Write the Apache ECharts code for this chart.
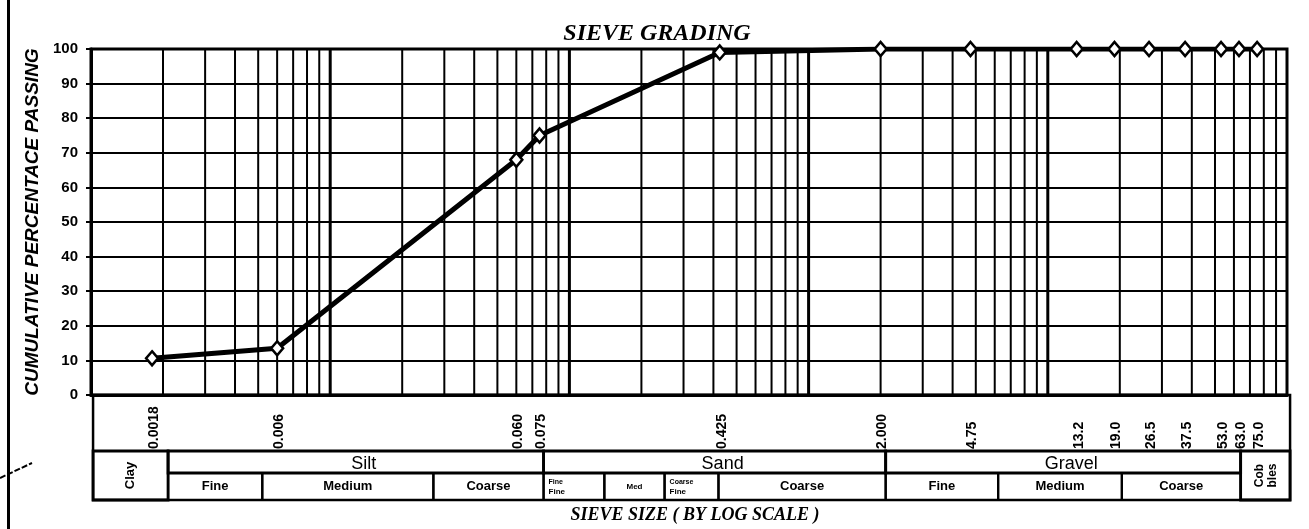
<!DOCTYPE html>
<html>
<head>
<meta charset="utf-8">
<script src="https://cdn.jsdelivr.net/npm/echarts@6/dist/echarts.min.js"></script>
<style>
html,body{margin:0;padding:0;background:#fff;}
#chart{width:1309px;height:529px;}
</style>
</head>
<body>
<div id="chart"></div>
<script>
// ---- data ----
const sieveSizes     = [0.0018, 0.006, 0.060, 0.075, 0.425, 2.0, 4.75, 13.2, 19.0, 26.5, 37.5, 53.0, 63.0, 75.0];
const percentPassing = [10.6, 13.5, 68, 75, 99, 100, 100, 100, 100, 100, 100, 100, 100, 100];
const sieveLabels    = ['0.0018','0.006','0.060','0.075','0.425','2.000','4.75','13.2','19.0','26.5','37.5','53.0','63.0','75.0'];

// log grid lines (decades heavy, 2..9 minor)
const decadeLines = [0.01, 0.1, 1, 10];
const minorLines = [
  0.002,0.003,0.004,0.005,0.006,0.007,0.008,0.009,
  0.02,0.03,0.04,0.05,0.06,0.07,0.08,0.09,
  0.2,0.3,0.4,0.5,0.6,0.7,0.8,0.9,
  2,3,4,5,6,7,8,9,
  20,30,40,50,60,70,80,90
];

// classification table
const mainClasses = ['Clay', 'Silt', 'Sand', 'Gravel', 'Cobbles'];
const mainEdges   = [0.00102, 0.0021, 0.078, 2.1, 64, 103];
const subClasses  = ['Fine', 'Medium', 'Coarse', 'Fine Fine', 'Med', 'Coarse Fine', 'Coarse', 'Fine', 'Medium', 'Coarse'];
const subEdges    = [0.0021, 0.0052, 0.027, 0.078, 0.14, 0.25, 0.42, 2.1, 6.2, 20.4, 64];

// ---- build ----
const cells = [];
mainClasses.forEach((t, i) => {
  const full = (i === 0 || i === mainClasses.length - 1);
  cells.push({x0: mainEdges[i], x1: mainEdges[i + 1], text: t, level: full ? 'full' : 'head'});
});
subEdges.slice(0, -1).forEach((e, i) => {
  cells.push({x0: e, x1: subEdges[i + 1], text: subClasses[i], level: 'sub'});
});

const SANS = '"Liberation Sans", Arial, sans-serif';
const SERIF = '"Liberation Serif", "Times New Roman", serif';

function gridRenderer(width) {
  return function (params, api) {
    const v = api.value(0);
    const a = api.coord([v, 0]);
    const b = api.coord([v, 100]);
    return {type: 'line', shape: {x1: a[0], y1: a[1], x2: b[0], y2: b[1]},
            style: {stroke: '#000', lineWidth: width}, silent: true};
  };
}

function renderTable(params, api) {
  const i = api.value(2);
  const p0 = api.coord([api.value(0), 0]);
  const p1 = api.coord([api.value(1), 0]);
  const base = p0[1];
  const x0 = p0[0], x1 = p1[0];
  const children = [];
  if (i < 0) {
    children.push({type: 'rect', shape: {x: x0, y: base, width: x1 - x0, height: 105},
                   style: {fill: 'none', stroke: '#000', lineWidth: 2.5}});
    return {type: 'group', children};
  }
  const c = cells[i];
  let top, bottom;
  if (c.level === 'full') { top = base + 56; bottom = base + 105; }
  else if (c.level === 'head') { top = base + 56; bottom = base + 78; }
  else { top = base + 78; bottom = base + 105; }
  const heavy = (c.level !== 'sub');
  children.push({type: 'rect', shape: {x: x0, y: top, width: x1 - x0, height: bottom - top},
                 style: {fill: 'none', stroke: '#000', lineWidth: heavy ? 2.8 : 2.2}});
  const cx = (x0 + x1) / 2, cy = (top + bottom) / 2;
  if (c.text === 'Clay') {
    children.push({type: 'text', x: cx, y: cy, rotation: Math.PI / 2,
      style: {text: c.text, font: 'bold 13px ' + SANS, fill: '#000', align: 'center', verticalAlign: 'middle'}});
  } else if (c.text === 'Cobbles') {
    children.push({type: 'text', x: cx - 6, y: cy, rotation: Math.PI / 2,
      style: {text: 'Cob', font: 'bold 12px ' + SANS, fill: '#000', align: 'center', verticalAlign: 'middle'}});
    children.push({type: 'text', x: cx + 7, y: cy, rotation: Math.PI / 2,
      style: {text: 'bles', font: 'bold 12px ' + SANS, fill: '#000', align: 'center', verticalAlign: 'middle'}});
  } else if (c.level === 'head') {
    children.push({type: 'text', x: cx + 8, y: cy + 2,
      style: {text: c.text, font: 'normal 18px ' + SANS, fill: '#000', align: 'center', verticalAlign: 'middle'}});
  } else if (c.text.indexOf(' ') > 0) {
    const parts = c.text.split(' ');
    children.push({type: 'text', x: x0 + 5, y: cy - 4,
      style: {text: parts[0], font: 'bold 7px ' + SANS, fill: '#000', align: 'left', verticalAlign: 'middle'}});
    children.push({type: 'text', x: x0 + 5, y: cy + 5,
      style: {text: parts[1], font: 'bold 8px ' + SANS, fill: '#000', align: 'left', verticalAlign: 'middle'}});
  } else if (c.text === 'Med') {
    children.push({type: 'text', x: cx, y: cy,
      style: {text: c.text, font: 'bold 8px ' + SANS, fill: '#000', align: 'center', verticalAlign: 'middle'}});
  } else {
    children.push({type: 'text', x: cx, y: cy,
      style: {text: c.text, font: 'bold 13px ' + SANS, fill: '#000', align: 'center', verticalAlign: 'middle'}});
  }
  return {type: 'group', children};
}

function renderTickLabel(params, api) {
  const i = api.value(2);
  const p = api.coord([api.value(0), 0]);
  return {type: 'text', x: p[0] + 2, y: p[1] + 54, rotation: Math.PI / 2,
    style: {text: sieveLabels[i], font: 'bold 14px ' + SANS, fill: '#000', align: 'left', verticalAlign: 'middle'}};
}

const chart = echarts.init(document.getElementById('chart'), null, {renderer: 'canvas'});
chart.setOption({
  animation: false,
  backgroundColor: '#fff',
  title: {
    text: 'SIEVE GRADING', left: 652, top: 17, textAlign: 'center',
    textStyle: {fontFamily: SERIF, fontStyle: 'italic', fontWeight: 'bold', fontSize: 24, color: '#000'}
  },
  grid: {left: 91, right: 22, top: 49, bottom: 132, show: true, borderColor: '#000', borderWidth: 3},
  xAxis: {
    type: 'log', logBase: 10, min: 0.001, max: 100,
    axisLine: {show: true, lineStyle: {color: '#000', width: 3}},
    axisTick: {show: false}, axisLabel: {show: false}, splitLine: {show: false},
    name: 'SIEVE SIZE ( BY LOG SCALE )', nameLocation: 'middle', nameGap: 111,
    nameTextStyle: {fontFamily: SERIF, fontStyle: 'italic', fontWeight: 'bold', fontSize: 18, color: '#000', padding: [0, 0, 0, 12]}
  },
  yAxis: {
    type: 'value', min: 0, max: 100, interval: 10,
    axisLine: {show: true, lineStyle: {color: '#000', width: 3}},
    axisTick: {show: true, inside: false, length: 5, lineStyle: {color: '#000', width: 2}},
    axisLabel: {color: '#000', fontFamily: SANS, fontWeight: 'bold', fontSize: 15, margin: 13},
    splitLine: {show: true, lineStyle: {color: '#000', width: 2}},
    name: 'CUMULATIVE PERCENTACE PASSING', nameLocation: 'middle', nameGap: 46,
    nameTextStyle: {fontFamily: SANS, fontStyle: 'italic', fontWeight: 'bold', fontSize: 19, color: '#000'}
  },
  graphic: [
    {type: 'rect', left: 7, top: 0, shape: {width: 3, height: 529}, style: {fill: '#000'}, silent: true},
    {type: 'line', shape: {x1: 0, y1: 478, x2: 32, y2: 463}, style: {stroke: '#000', lineWidth: 2, lineDash: [6, 2]}, silent: true}
  ],
  series: [
    {type: 'custom', name: 'minorGrid', z: 1, silent: true, renderItem: gridRenderer(2),
     data: minorLines.map(v => [v, 0]), encode: {x: 0, y: 1}},
    {type: 'custom', name: 'decadeGrid', z: 1, silent: true, renderItem: gridRenderer(3),
     data: decadeLines.map(v => [v, 0]), encode: {x: 0, y: 1}},
    {type: 'custom', name: 'table', z: 2, silent: true, clip: false, renderItem: renderTable,
     data: [[mainEdges[0], mainEdges[mainEdges.length - 1], -1, 0]].concat(cells.map((c, i) => [c.x0, c.x1, i, 0])),
     encode: {x: [0, 1], y: 3}},
    {type: 'custom', name: 'tickLabels', z: 2, silent: true, clip: false, renderItem: renderTickLabel,
     data: sieveSizes.map((v, i) => [v, 0, i]), encode: {x: 0, y: 1}},
    {type: 'line', name: 'Grading', z: 5,
     data: sieveSizes.map((v, i) => [v, percentPassing[i]]),
     symbol: 'diamond', symbolSize: [12, 14], showAllSymbol: true,
     lineStyle: {color: '#000', width: 5},
     itemStyle: {color: '#fff', borderColor: '#000', borderWidth: 2.5}}
  ]
});
</script>
</body>
</html>
